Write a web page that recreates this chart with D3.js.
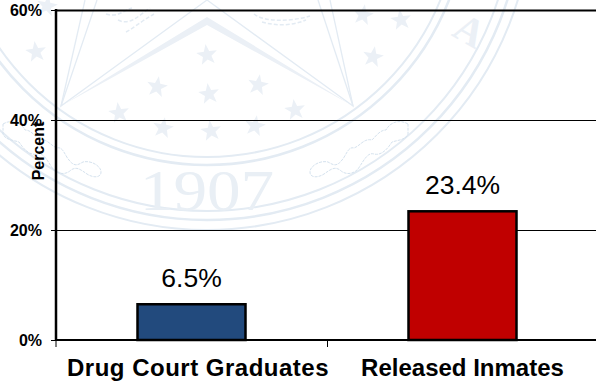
<!DOCTYPE html>
<html><head><meta charset="utf-8">
<script src="https://cdn.jsdelivr.net/npm/d3@7"></script>
<style>html,body{margin:0;padding:0;background:#fff}svg{display:block}text{font-family:"Liberation Sans",Arial,sans-serif}</style>
</head><body><div id="c"></div>
<script>
const categories = ["Drug Court Graduates", "Released Inmates"];
const values = [6.5, 23.4];
const valueLabels = ["6.5%", "23.4%"];
const barColors = ["#224A7D", "#C00000"];
const yTicks = [0, 20, 40, 60];
const yTitle = "Percent";
const sealYear = "1907";

const W = 596, H = 382;
const svg = d3.select("#c").append("svg").attr("width", W).attr("height", H);
const x = d3.scaleBand().domain(categories).range([56, 598]).paddingInner(0).paddingOuter(0);
const y = d3.scaleLinear().domain([0, 60]).range([340, 10]);

// ---- faint state-seal watermark (decoration only) ----
const seal = svg.append("g").attr("fill", "none").attr("stroke", "#e3ebf3");
const cx = 207, cy = -95;
[[252, 2], [260, 2.5], [306, 2], [315, 2.5], [325, 2]].forEach(([r, w]) =>
  seal.append("circle").attr("cx", cx).attr("cy", cy).attr("r", r).attr("stroke-width", w));
const line = d3.line();
seal.append("path").attr("stroke-width", 1.3).attr("d", line([[97, 0], [61, 106], [207, 0], [353, 106], [330, 0]]));
seal.append("path").attr("stroke-width", 1.3).attr("d", line([[85, 0], [61, 106]]));
seal.append("path").attr("stroke-width", 1.3).attr("d", line([[318, 0], [353, 106]]));
seal.append("path").attr("fill", "#ebf0f6").attr("stroke", "none")
  .attr("d", line([[61, 106], [207, 17], [353, 106], [207, 25]]));
const scrollPath = "c8,-5 18,-2 22,6 c6,0 10,6 14,10 c8,-2 12,6 18,8 c6,-2 8,8 12,12 c6,8 10,4 14,2 c8,-2 18,4 18,10 c0,6 -8,6 -14,2 c-6,-4 -10,-8 -16,-4 c-6,6 -16,4 -20,-4 c-4,-6 -8,-14 -14,-12 c-8,2 -14,-6 -18,-12 c-6,-2 -14,-2 -16,-8 z";
seal.append("path").attr("stroke-width", 1).attr("stroke", "#d5e2ee").attr("stroke-dasharray", "3 1")
  .attr("d", "M3,124 " + scrollPath);
seal.append("path").attr("stroke-width", 1).attr("stroke", "#d5e2ee").attr("stroke-dasharray", "3 1")
  .attr("transform", "translate(411,0) scale(-1,1)").attr("d", "M3,124 " + scrollPath);
// eagle-like scribbles at the top of the seal
seal.append("path").attr("stroke-width", 1.5).attr("stroke", "#e3ebf3").attr("stroke-dasharray", "4 2")
  .attr("d", "M106,14 c12,4 18,-4 26,-6 M118,20 c12,6 20,-4 32,-12 M126,32 c8,-4 14,-10 28,-18");
seal.append("path").attr("stroke-width", 1.5).attr("stroke", "#e3ebf3").attr("stroke-dasharray", "4 2")
  .attr("d", "M254,14 c10,8 36,8 56,2 M262,22 c14,4 30,4 44,-2");
const starPts = [[36,52],[47,6],[207,55],[157,87],[209,94],[258,85],[119,113],[163,128],[211,131],[255,126],[295,110],[363,15],[401,20],[373,57]];
const starGen = d3.lineRadial().curve(d3.curveLinearClosed)
  .radius((d, i) => i % 2 ? 4.5 : 11).angle((d, i) => i * Math.PI / 5);
seal.selectAll("path.star").data(starPts).join("path").attr("class", "star")
  .attr("fill", "#ebf0f6").attr("stroke", "none")
  .attr("transform", (d, i) => `translate(${d[0]},${d[1]}) rotate(${i % 2 ? 10 : -8})`)
  .attr("d", starGen(d3.range(10)));
svg.append("text").attr("transform", "translate(207,210) scale(1.2,1)").attr("text-anchor", "middle")
  .attr("font-size", 56).attr("fill", "#e9eff5")
  .style("font-family", '"Liberation Serif",serif').text(sealYear);
svg.append("text").attr("x", 470).attr("y", 44).attr("text-anchor", "middle")
  .attr("font-size", 40).attr("font-weight", "bold").attr("fill", "#ebf0f6")
  .attr("transform", "rotate(30 470 30)")
  .style("font-family", '"Liberation Serif",serif').text("A");

// ---- gridlines ----
svg.append("g").selectAll("line").data(yTicks.filter(t => t > 0)).join("line")
  .attr("x1", 56).attr("x2", W).attr("y1", d => Math.round(y(d)) + 0.5).attr("y2", d => Math.round(y(d)) + 0.5)
  .attr("stroke", "#000").attr("stroke-width", d => d === 60 ? 2 : 1);

// ---- bars ----
const barW = 108;
svg.append("g").selectAll("rect").data(values).join("rect")
  .attr("x", (d, i) => x(categories[i]) + x.bandwidth() / 2 - barW / 2)
  .attr("y", d => y(d))
  .attr("width", barW)
  .attr("height", d => y(0) - y(d))
  .attr("fill", (d, i) => barColors[i])
  .attr("stroke", "#000").attr("stroke-width", 2.5);
svg.append("g").selectAll("text").data(values).join("text")
  .attr("x", (d, i) => x(categories[i]) + x.bandwidth() / 2)
  .attr("y", d => y(d) - 17)
  .attr("text-anchor", "middle").attr("font-size", 26.5).attr("fill", "#000")
  .text((d, i) => valueLabels[i]);

// ---- axes ----
const yAxis = d3.axisLeft(y).tickValues(yTicks).tickFormat(d => d + "%").tickSize(5).tickPadding(9);
const gy = svg.append("g").attr("transform", "translate(56,0)").call(yAxis);
gy.select(".domain").attr("stroke", "#000").attr("stroke-width", 2.5).attr("d", "M0,9V341");
gy.selectAll("text").attr("font-size", 16).attr("font-weight", "bold").attr("fill", "#000")
  .style("font-family", '"Liberation Sans",Arial,sans-serif');
gy.selectAll("line").attr("stroke", "#000");

svg.append("line").attr("x1", 55).attr("x2", W).attr("y1", 340).attr("y2", 340).attr("stroke", "#000").attr("stroke-width", 2.2);
svg.append("g").selectAll("line").data([56, 327.5]).join("line")
  .attr("x1", d => d).attr("x2", d => d).attr("y1", 340).attr("y2", 347).attr("stroke", "#000").attr("stroke-width", 1);
svg.append("g").selectAll("text").data(categories).join("text")
  .attr("x", (d, i) => x(d) + x.bandwidth() / 2 + (i === 0 ? 6.5 : 0)).attr("y", 376)
  .attr("text-anchor", "middle").attr("font-size", 24).attr("font-weight", "bold").attr("fill", "#000")
  .attr("letter-spacing", (d, i) => i === 0 ? 0.5 : 0)
  .text(d => d);

svg.append("text").attr("transform", "translate(44,151) rotate(-90)")
  .attr("text-anchor", "middle").attr("font-size", 16).attr("font-weight", "bold").attr("fill", "#000").text(yTitle);
</script></body></html>
